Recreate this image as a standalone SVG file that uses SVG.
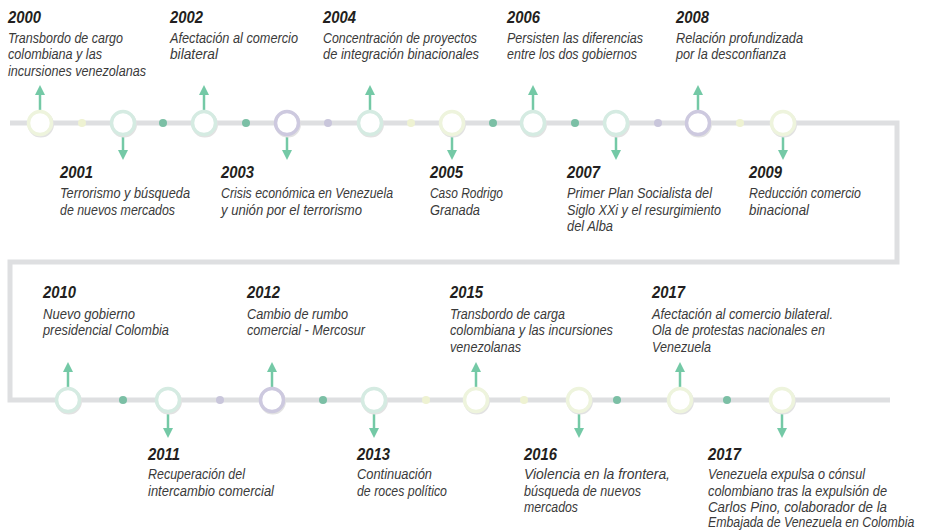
<svg xmlns="http://www.w3.org/2000/svg" width="925" height="532" viewBox="0 0 925 532">
<style>
.yr{font-family:"Liberation Sans",Arial,sans-serif;font-style:italic;font-weight:bold;font-size:16px;fill:#231f20}
.ds{font-family:"Liberation Sans",Arial,sans-serif;font-style:italic;font-size:15.3px;fill:#3a3a3a}
.track{fill:none;stroke:#dedfe1;stroke-width:5}
.arr{stroke:#74c9a6;stroke-width:2.5;marker-end:url(#ah)}
.ring{fill:#fff;stroke-width:3.5}
.sh{fill:#e2e2e2}
.cy{stroke:#eef4dd}.ct{stroke:#d5ebe2}.cp{stroke:#cdc9df}
.dt{fill:#7bbfa5}.dp{fill:#c9c6db}.dy{fill:#eef2d2}
</style>
<defs>
<marker id="ah" viewBox="0 0 10 10" refX="6" refY="5" markerWidth="10" markerHeight="10" markerUnits="userSpaceOnUse" orient="auto">
<path d="M0,0 L10,5 L0,10 z" fill="#74c9a6"/>
</marker>
</defs>
<g id="connectors">
<path class="track" d="M10,123 H897 V262 H10 V400 H890"/>
<g id="dots">
<circle class="dy" cx="82" cy="123" r="4"/><circle class="dt" cx="163" cy="123" r="4"/><circle class="dt" cx="246" cy="123" r="4"/><circle class="dp" cx="328" cy="123" r="4"/><circle class="dy" cx="411" cy="123" r="4"/><circle class="dt" cx="493" cy="123" r="4"/><circle class="dt" cx="575" cy="123" r="4"/><circle class="dp" cx="658" cy="123" r="4"/><circle class="dy" cx="740" cy="123" r="4"/>
<circle class="dt" cx="123" cy="400" r="4"/><circle class="dp" cx="220" cy="400" r="4"/><circle class="dt" cx="323" cy="400" r="4"/><circle class="dy" cx="426" cy="400" r="4"/><circle class="dy" cx="524" cy="400" r="4"/><circle class="dt" cx="617" cy="400" r="4"/><circle class="dt" cx="727" cy="400" r="4"/>
</g>
<line class="arr" x1="40" y1="110" x2="40" y2="89"/>
<line class="arr" x1="123" y1="137" x2="123" y2="156"/>
<line class="arr" x1="204" y1="110" x2="204" y2="89"/>
<line class="arr" x1="287" y1="137" x2="287" y2="156"/>
<line class="arr" x1="370" y1="110" x2="370" y2="89"/>
<line class="arr" x1="452" y1="137" x2="452" y2="156"/>
<line class="arr" x1="533" y1="110" x2="533" y2="89"/>
<line class="arr" x1="616" y1="137" x2="616" y2="156"/>
<line class="arr" x1="698" y1="110" x2="698" y2="89"/>
<line class="arr" x1="783" y1="137" x2="783" y2="156"/>
<line class="arr" x1="68" y1="387" x2="68" y2="366"/>
<line class="arr" x1="168" y1="414" x2="168" y2="434"/>
<line class="arr" x1="272" y1="387" x2="272" y2="366"/>
<line class="arr" x1="374" y1="414" x2="374" y2="434"/>
<line class="arr" x1="476" y1="387" x2="476" y2="366"/>
<line class="arr" x1="579" y1="414" x2="579" y2="434"/>
<line class="arr" x1="680" y1="387" x2="680" y2="366"/>
<line class="arr" x1="782" y1="414" x2="782" y2="434"/>
</g>

<g id="n2000"><circle class="sh" cx="40.8" cy="124.3" r="13.2"/><circle class="ring cy" cx="40" cy="123" r="11.5"/>
<text class="yr" x="8" y="22.5" textLength="33" lengthAdjust="spacingAndGlyphs">2000</text>
<text class="ds" x="8" y="42.5" textLength="115" lengthAdjust="spacingAndGlyphs">Transbordo de cargo</text>
<text class="ds" x="8" y="59.2" textLength="94" lengthAdjust="spacingAndGlyphs">colombiana y las</text>
<text class="ds" x="8" y="76" textLength="138" lengthAdjust="spacingAndGlyphs">incursiones venezolanas</text></g>

<g id="n2001"><circle class="sh" cx="123.8" cy="124.3" r="13.2"/><circle class="ring ct" cx="123" cy="123" r="11.5"/>
<text class="yr" x="60" y="178" textLength="33" lengthAdjust="spacingAndGlyphs">2001</text>
<text class="ds" x="60" y="198" textLength="130" lengthAdjust="spacingAndGlyphs">Terrorismo y búsqueda</text>
<text class="ds" x="60" y="214.5" textLength="115" lengthAdjust="spacingAndGlyphs">de nuevos mercados</text></g>

<g id="n2002"><circle class="sh" cx="204.8" cy="124.3" r="13.2"/><circle class="ring ct" cx="204" cy="123" r="11.5"/>
<text class="yr" x="170" y="22.5" textLength="33" lengthAdjust="spacingAndGlyphs">2002</text>
<text class="ds" x="170" y="42.5" textLength="128" lengthAdjust="spacingAndGlyphs">Afectación al comercio</text>
<text class="ds" x="170" y="59.2" textLength="48" lengthAdjust="spacingAndGlyphs">bilateral</text></g>

<g id="n2003"><circle class="sh" cx="287.8" cy="124.3" r="13.2"/><circle class="ring cp" cx="287" cy="123" r="11.5"/>
<text class="yr" x="221" y="178" textLength="33" lengthAdjust="spacingAndGlyphs">2003</text>
<text class="ds" x="221" y="198" textLength="172" lengthAdjust="spacingAndGlyphs">Crisis económica en Venezuela</text>
<text class="ds" x="221" y="214.5" textLength="141" lengthAdjust="spacingAndGlyphs">y unión por el terrorismo</text></g>

<g id="n2004"><circle class="sh" cx="370.8" cy="124.3" r="13.2"/><circle class="ring ct" cx="370" cy="123" r="11.5"/>
<text class="yr" x="323" y="22.5" textLength="33" lengthAdjust="spacingAndGlyphs">2004</text>
<text class="ds" x="323" y="42.5" textLength="154" lengthAdjust="spacingAndGlyphs">Concentración de proyectos</text>
<text class="ds" x="323" y="59.2" textLength="156" lengthAdjust="spacingAndGlyphs">de integración binacionales</text></g>

<g id="n2005"><circle class="sh" cx="452.8" cy="124.3" r="13.2"/><circle class="ring cy" cx="452" cy="123" r="11.5"/>
<text class="yr" x="430" y="178" textLength="33" lengthAdjust="spacingAndGlyphs">2005</text>
<text class="ds" x="430" y="198" textLength="73" lengthAdjust="spacingAndGlyphs">Caso Rodrigo</text>
<text class="ds" x="430" y="214.5" textLength="50" lengthAdjust="spacingAndGlyphs">Granada</text></g>

<g id="n2006"><circle class="sh" cx="533.8" cy="124.3" r="13.2"/><circle class="ring ct" cx="533" cy="123" r="11.5"/>
<text class="yr" x="507" y="22.5" textLength="33" lengthAdjust="spacingAndGlyphs">2006</text>
<text class="ds" x="507" y="42.5" textLength="136" lengthAdjust="spacingAndGlyphs">Persisten las diferencias</text>
<text class="ds" x="507" y="59.2" textLength="130" lengthAdjust="spacingAndGlyphs">entre los dos gobiernos</text></g>

<g id="n2007"><circle class="sh" cx="616.8" cy="124.3" r="13.2"/><circle class="ring ct" cx="616" cy="123" r="11.5"/>
<text class="yr" x="567" y="178" textLength="33" lengthAdjust="spacingAndGlyphs">2007</text>
<text class="ds" x="567" y="198" textLength="145" lengthAdjust="spacingAndGlyphs">Primer Plan Socialista del</text>
<text class="ds" x="567" y="214.5" textLength="154" lengthAdjust="spacingAndGlyphs">Siglo XXi y el resurgimiento</text>
<text class="ds" x="567" y="231" textLength="46" lengthAdjust="spacingAndGlyphs">del Alba</text></g>

<g id="n2008"><circle class="sh" cx="698.8" cy="124.3" r="13.2"/><circle class="ring cp" cx="698" cy="123" r="11.5"/>
<text class="yr" x="676" y="22.5" textLength="33" lengthAdjust="spacingAndGlyphs">2008</text>
<text class="ds" x="676" y="42.5" textLength="127" lengthAdjust="spacingAndGlyphs">Relación profundizada</text>
<text class="ds" x="676" y="59.2" textLength="110" lengthAdjust="spacingAndGlyphs">por la desconfianza</text></g>

<g id="n2009"><circle class="sh" cx="783.8" cy="124.3" r="13.2"/><circle class="ring cy" cx="783" cy="123" r="11.5"/>
<text class="yr" x="749" y="178" textLength="33" lengthAdjust="spacingAndGlyphs">2009</text>
<text class="ds" x="749" y="198" textLength="112" lengthAdjust="spacingAndGlyphs">Reducción comercio</text>
<text class="ds" x="749" y="214.5" textLength="60" lengthAdjust="spacingAndGlyphs">binacional</text></g>

<g id="n2010"><circle class="sh" cx="68.8" cy="401.3" r="13.2"/><circle class="ring ct" cx="68" cy="400" r="11.5"/>
<text class="yr" x="43" y="298" textLength="33" lengthAdjust="spacingAndGlyphs">2010</text>
<text class="ds" x="43" y="318.5" textLength="92" lengthAdjust="spacingAndGlyphs">Nuevo gobierno</text>
<text class="ds" x="43" y="335" textLength="126" lengthAdjust="spacingAndGlyphs">presidencial Colombia</text></g>

<g id="n2011"><circle class="sh" cx="168.8" cy="401.3" r="13.2"/><circle class="ring ct" cx="168" cy="400" r="11.5"/>
<text class="yr" x="148" y="460" textLength="32" lengthAdjust="spacingAndGlyphs">2011</text>
<text class="ds" x="148" y="479" textLength="97" lengthAdjust="spacingAndGlyphs">Recuperación del</text>
<text class="ds" x="148" y="495.7" textLength="126" lengthAdjust="spacingAndGlyphs">intercambio comercial</text></g>

<g id="n2012"><circle class="sh" cx="272.8" cy="401.3" r="13.2"/><circle class="ring cp" cx="272" cy="400" r="11.5"/>
<text class="yr" x="247" y="298" textLength="33" lengthAdjust="spacingAndGlyphs">2012</text>
<text class="ds" x="247" y="318.5" textLength="101" lengthAdjust="spacingAndGlyphs">Cambio de rumbo</text>
<text class="ds" x="247" y="335" textLength="118" lengthAdjust="spacingAndGlyphs">comercial - Mercosur</text></g>

<g id="n2013"><circle class="sh" cx="374.8" cy="401.3" r="13.2"/><circle class="ring ct" cx="374" cy="400" r="11.5"/>
<text class="yr" x="357" y="460" textLength="33" lengthAdjust="spacingAndGlyphs">2013</text>
<text class="ds" x="357" y="479" textLength="75" lengthAdjust="spacingAndGlyphs">Continuación</text>
<text class="ds" x="357" y="495.7" textLength="90" lengthAdjust="spacingAndGlyphs">de roces político</text></g>

<g id="n2015"><circle class="sh" cx="476.8" cy="401.3" r="13.2"/><circle class="ring cy" cx="476" cy="400" r="11.5"/>
<text class="yr" x="450" y="298" textLength="33" lengthAdjust="spacingAndGlyphs">2015</text>
<text class="ds" x="450" y="318.5" textLength="115" lengthAdjust="spacingAndGlyphs">Transbordo de carga</text>
<text class="ds" x="450" y="335" textLength="163" lengthAdjust="spacingAndGlyphs">colombiana y las incursiones</text>
<text class="ds" x="450" y="351.5" textLength="71" lengthAdjust="spacingAndGlyphs">venezolanas</text></g>

<g id="n2016"><circle class="sh" cx="579.8" cy="401.3" r="13.2"/><circle class="ring cy" cx="579" cy="400" r="11.5"/>
<text class="yr" x="524" y="460" textLength="33" lengthAdjust="spacingAndGlyphs">2016</text>
<text class="ds" x="524" y="479" textLength="146" lengthAdjust="spacingAndGlyphs">Violencia en la frontera,</text>
<text class="ds" x="524" y="495.7" textLength="117" lengthAdjust="spacingAndGlyphs">búsqueda de nuevos</text>
<text class="ds" x="524" y="512.4" textLength="54" lengthAdjust="spacingAndGlyphs">mercados</text></g>

<g id="n2017a"><circle class="sh" cx="680.8" cy="401.3" r="13.2"/><circle class="ring cy" cx="680" cy="400" r="11.5"/>
<text class="yr" x="652" y="298" textLength="33" lengthAdjust="spacingAndGlyphs">2017</text>
<text class="ds" x="652" y="318.5" textLength="181" lengthAdjust="spacingAndGlyphs">Afectación al comercio bilateral.</text>
<text class="ds" x="652" y="335" textLength="173" lengthAdjust="spacingAndGlyphs">Ola de protestas nacionales en</text>
<text class="ds" x="652" y="351.5" textLength="59" lengthAdjust="spacingAndGlyphs">Venezuela</text></g>

<g id="n2017b"><circle class="sh" cx="782.8" cy="401.3" r="13.2"/><circle class="ring cy" cx="782" cy="400" r="11.5"/>
<text class="yr" x="708" y="460" textLength="33" lengthAdjust="spacingAndGlyphs">2017</text>
<text class="ds" x="708" y="479" textLength="157" lengthAdjust="spacingAndGlyphs">Venezuela expulsa o cónsul</text>
<text class="ds" x="708" y="495.5" textLength="179" lengthAdjust="spacingAndGlyphs">colombiano tras la expulsión de</text>
<text class="ds" x="708" y="511.5" textLength="179" lengthAdjust="spacingAndGlyphs">Carlos Pino, colaborador de la</text>
<text class="ds" transform="translate(708,527) scale(0.806,1)" x="0" y="0">Embajada de Venezuela en Colombia</text></g>
</svg>
